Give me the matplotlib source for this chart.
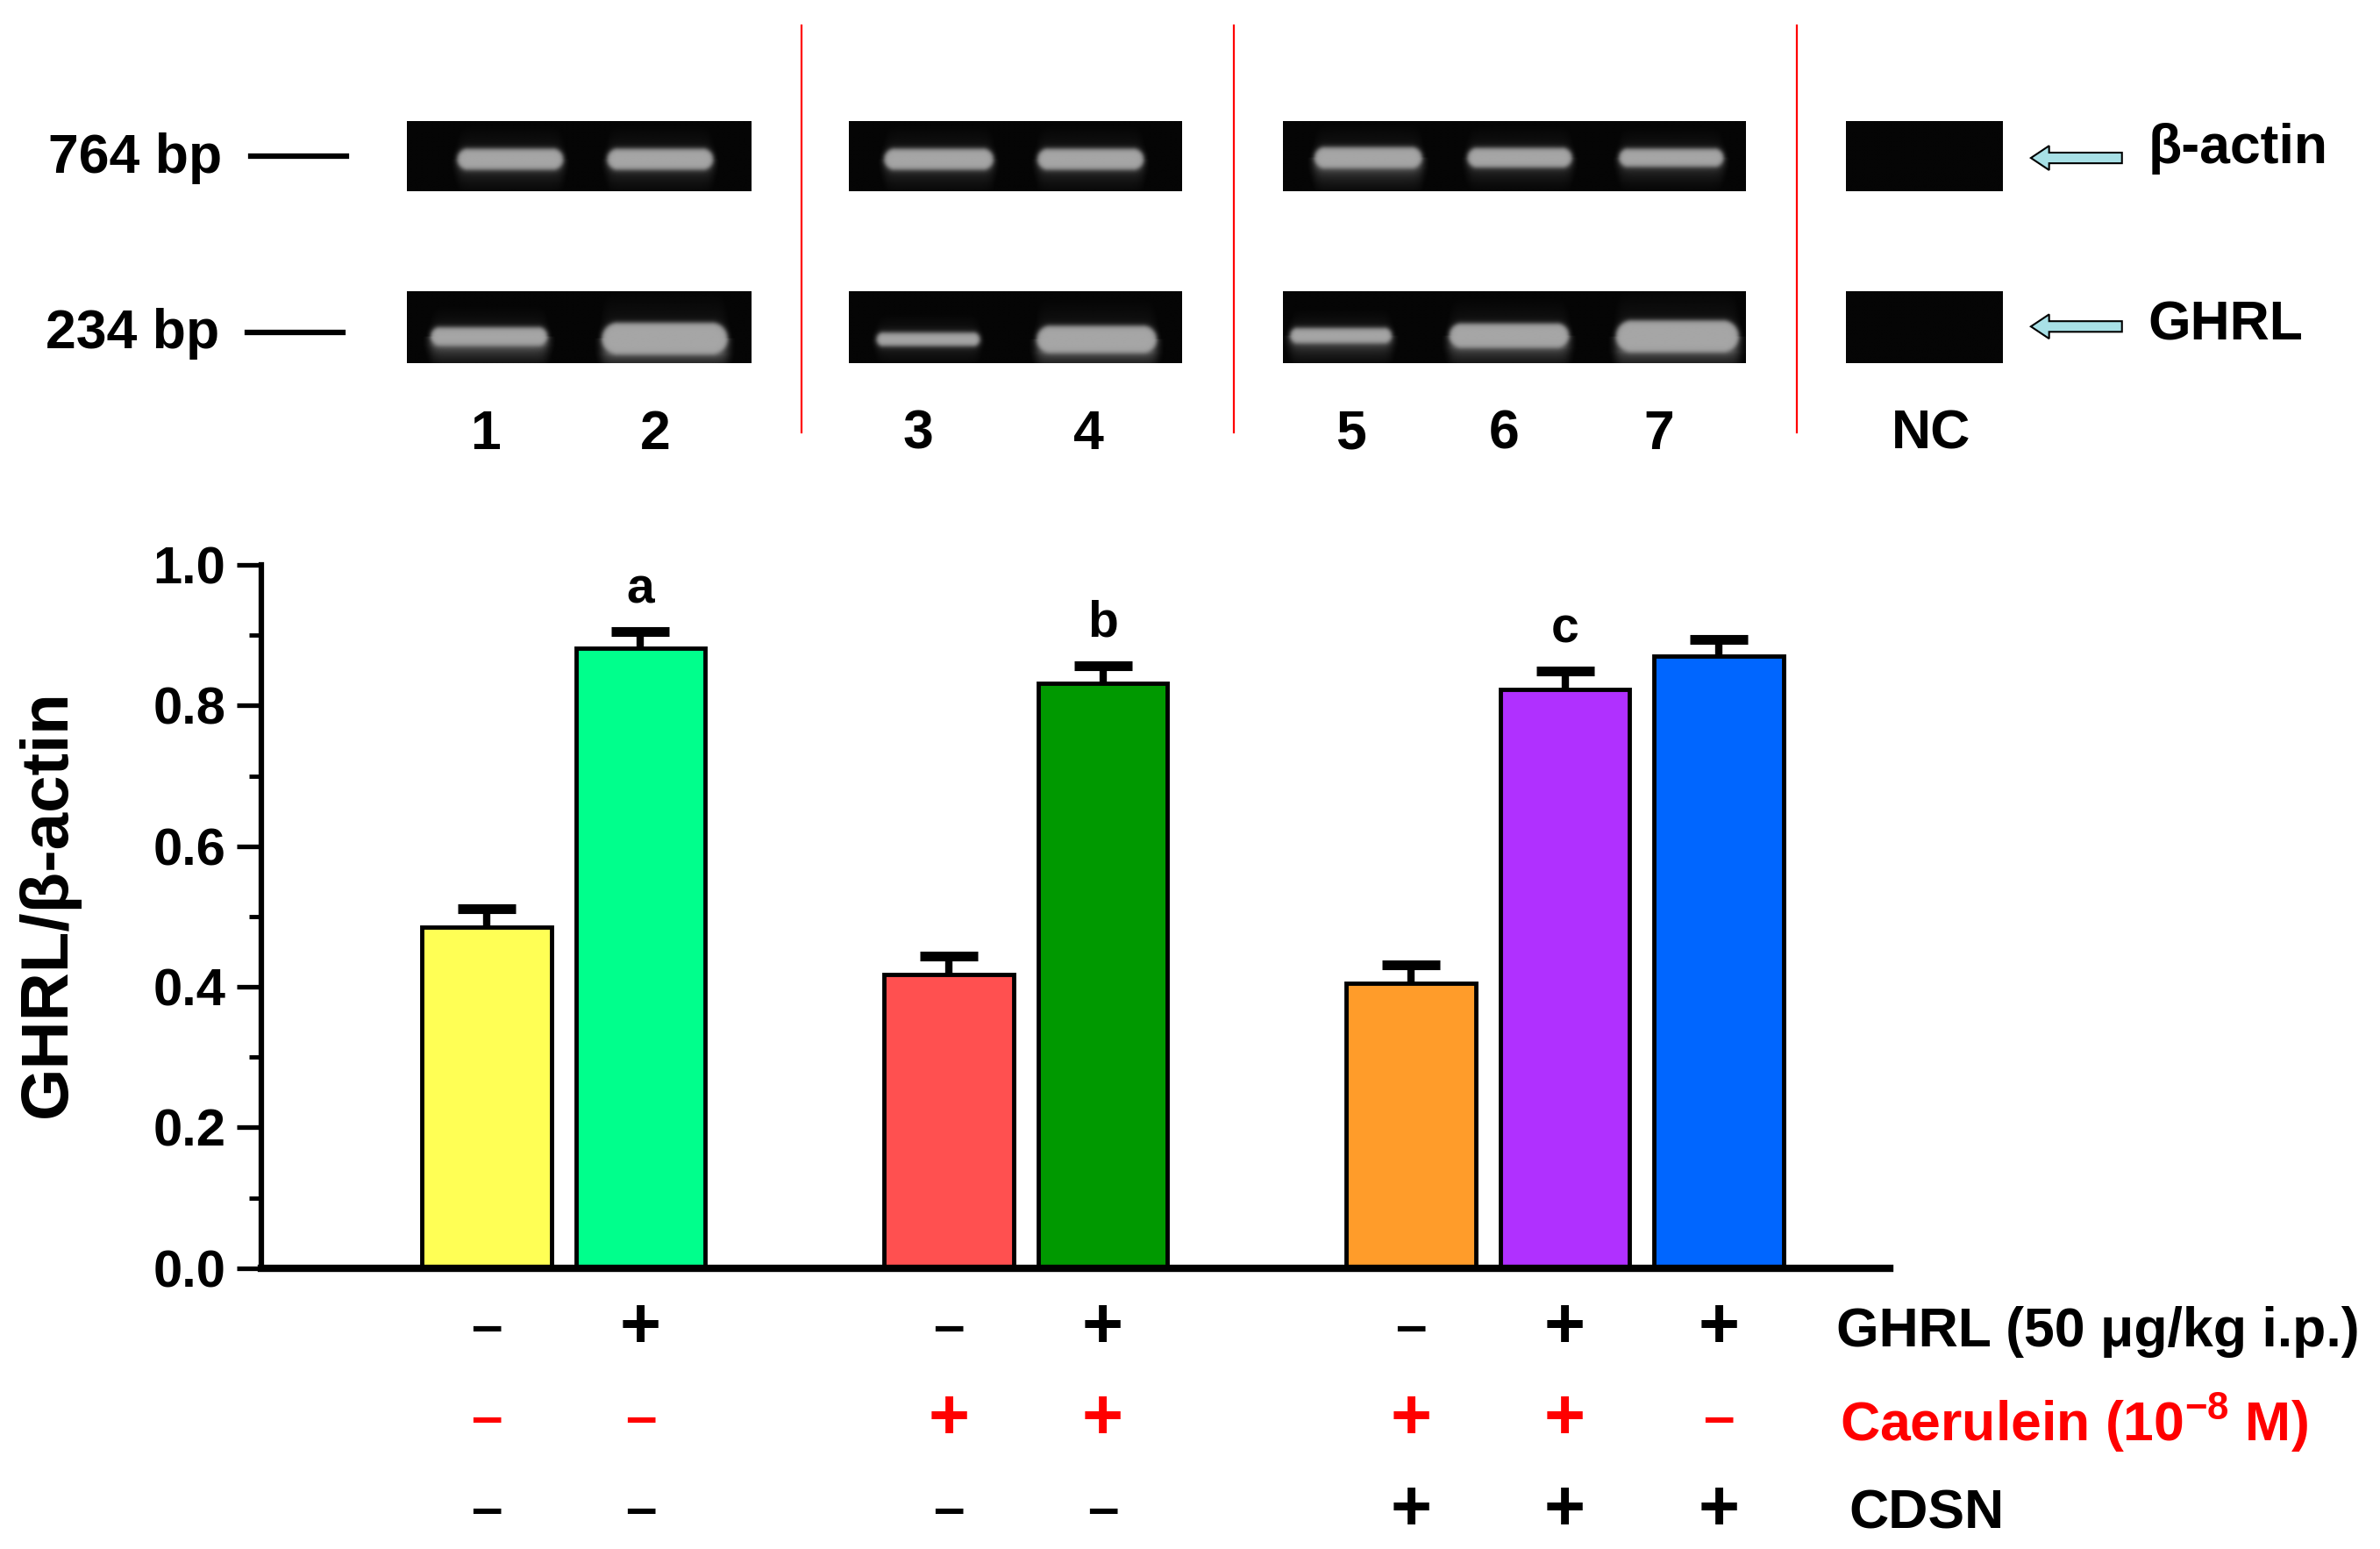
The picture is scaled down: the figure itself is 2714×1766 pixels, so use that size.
import numpy as np
import matplotlib
matplotlib.use("Agg")
import matplotlib.pyplot as plt
from matplotlib.patches import Polygon
from matplotlib.transforms import blended_transform_factory

plt.rcParams['font.family'] = ['Liberation Sans', 'DejaVu Sans']
plt.rcParams['font.weight'] = 'bold'
plt.rcParams['mathtext.fontset'] = 'custom'
plt.rcParams['mathtext.rm'] = 'Liberation Sans:bold'
plt.rcParams['mathtext.bf'] = 'Liberation Sans:bold'
plt.rcParams['mathtext.it'] = 'Liberation Sans:bold'

# bar data
ratio = [0.485, 0.881, 0.418, 0.832, 0.405, 0.823, 0.870]
sem = [0.026, 0.024, 0.026, 0.025, 0.026, 0.026, 0.024]
colors = ['#FFFF55', '#00FF8C', '#FF5050', '#009900', '#FF9C2A', '#B030FF', '#0066FF']
letters = ['', 'a', '', 'b', '', 'c', '']

# treatment table under the bars
ghrl_sign = ['-', '+', '-', '+', '-', '+', '+']
caer_sign = ['-', '-', '+', '+', '+', '+', '-']
cdsn_sign = ['-', '-', '-', '-', '+', '+', '+']

lane_names = ['1', '2', '3', '4', '5', '6', '7', 'NC']

W, H = 2714, 1766
fig = plt.figure(figsize=(W / 100, H / 100), dpi=100)

# overlay in "display" coords of a 1568 x 1020 layout
ov = fig.add_axes([0, 0, 1, 1], zorder=0)
ov.set_xlim(0, 1568)
ov.set_ylim(1020, 0)
ov.axis('off')
S = W / 1568.0

def gel(x0, x1, y0, y1, bands):
    nx = int((x1 - x0) * S)
    ny = int((y1 - y0) * S)
    X, Y = np.meshgrid(np.linspace(x0, x1, nx), np.linspace(y0, y1, ny))
    img = np.full(X.shape, 0.02)
    for cx, cy, w, h, sm in bands:
        # rounded band ends
        rx = np.clip(np.abs(X - cx) - (w / 2 - h / 2), 0, None)
        ry = np.abs(Y - cy)
        d = np.sqrt(rx ** 2 + ry ** 2)
        core = 1 / (1 + np.exp(-(h / 2 - d) / 0.9))
        fx = 1 / (1 + np.exp(-(w / 2 - np.abs(X - cx)) / 2.0))
        band = 0.65 * core
        below = (Y > cy) * np.exp(-np.clip(Y - cy - h / 2, 0, None) / 7.0) * fx * sm
        glow = 0.08 * fx * np.exp(-((Y - cy) / (h + 6)) ** 2)
        img = np.maximum(img, band + (1 - core) * (below + glow))
    ov.imshow(img, cmap='gray', vmin=0, vmax=1, extent=(x0, x1, y1, y0),
              interpolation='bilinear', aspect='auto', zorder=1)

# beta-actin row
gel(268, 495, 80, 126, [(336, 105, 70, 14, 0.10), (435, 105, 70, 14, 0.10)])
gel(559, 778, 80, 126, [(618, 105, 72, 14, 0.10), (718, 105, 70, 14, 0.10)])
gel(845, 1150, 80, 126, [(901, 104, 71, 14, 0.22), (1001, 104, 69, 13, 0.10),
                         (1101, 104, 69, 12, 0.12)])
gel(1216, 1319, 80, 126, [])
# GHRL row
gel(268, 495, 192, 239, [(322, 221.5, 77, 12, 0.30), (438, 223, 83, 21, 0.25)])
gel(559, 778, 192, 239, [(611, 223.5, 68, 9, 0.05), (722, 223.5, 79, 18, 0.25)])
gel(845, 1150, 192, 239, [(883, 221, 67, 10, 0.20), (994, 221, 79, 16, 0.25),
                          (1105, 221.5, 81, 21, 0.25)])
gel(1216, 1319, 192, 239, [])

for xr in [528, 813, 1184]:
    ov.plot([xr, xr], [17, 285], color='#FF0000', lw=1.6, zorder=2)

ov.text(32, 104, '764 bp', fontsize=45, ha='left', va='center')
ov.plot([165, 228], [103, 103], color='black', lw=4.5)
ov.text(30, 220, '234 bp', fontsize=45, ha='left', va='center')
ov.plot([163, 226], [219, 219], color='black', lw=4.5)

for xl, name in zip([320, 432, 605, 717, 890, 991, 1093, 1272], lane_names):
    ov.text(xl, 286, name, fontsize=45, ha='center', va='center')

for ya, lab in [(104, '\u03b2-actin'), (215, 'GHRL')]:
    arrow = [(1338, ya), (1350, ya - 8), (1350, ya - 3.5), (1398, ya - 3.5),
             (1398, ya + 3.5), (1350, ya + 3.5), (1350, ya + 8)]
    ov.add_patch(Polygon(arrow, closed=True, facecolor='#A8E0E6',
                         edgecolor='black', lw=1.5, zorder=3))
    ov.text(1415, ya - 6 if lab != 'GHRL' else ya - 1, lab, fontsize=45,
            ha='left', va='center')

# bar chart
ax = fig.add_axes([172 / 1568, 1 - 835 / 1020, (1245 - 172) / 1568, (835 - 372) / 1020],
                  zorder=2)
ax.patch.set_alpha(0)
pos = [1, 2, 4, 5, 7, 8, 9]
ax.bar(pos, ratio, width=0.84, color=colors, edgecolor='black', linewidth=3.5, zorder=2)
eb = ax.errorbar(pos, ratio, yerr=[np.zeros(len(sem)), sem], fmt='none', ecolor='black',
                 elinewidth=6, capsize=24, capthick=8, zorder=3)
eb[1][0].set_visible(False)   # no lower caps, error bars go up only
for p, v, e, t in zip(pos, ratio, sem, letters):
    if t:
        ax.text(p, v + e + 0.06, t, fontsize=41, ha='center', va='center')

ax.set_xlim(-0.463, 10.108)
ax.set_ylim(0, 1.0)
ax.set_yticks(np.arange(0, 1.01, 0.2))
ax.set_yticklabels(['%.1f' % v for v in np.arange(0, 1.01, 0.2)], fontsize=43)
ax.set_yticks(np.arange(0.1, 1.0, 0.2), minor=True)
ax.set_xticks([])
ax.tick_params(axis='y', which='major', length=20, width=3.8, pad=9)
ax.tick_params(axis='y', which='minor', length=10, width=3.5)
for s in ['top', 'right']:
    ax.spines[s].set_visible(False)
ax.spines['left'].set_linewidth(4.5)
ax.spines['bottom'].set_linewidth(6)
ov.text(32, 595, 'GHRL/\u03b2-actin', fontsize=55, fontweight='bold', rotation=90,
        ha='center', va='center')

# treatment rows
tr = blended_transform_factory(ax.transData, ov.transData)
rows = [(ghrl_sign, 875, 'black'), (caer_sign, 935, '#FF0000'), (cdsn_sign, 995, 'black')]
for signs, yr, col in rows:
    for p, s in zip(pos, signs):
        if s == '+':
            ov.text(p, yr, '+', fontsize=58, ha='center', va='center', color=col,
                    transform=tr, clip_on=False)
        else:
            ov.text(p, yr, '\u2013', fontsize=46, ha='center', va='center', color=col,
                    transform=tr, clip_on=False)

ov.text(1210, 877, 'GHRL (50 \u03bcg/kg i.p.)', fontsize=45, ha='left', va='center')
ov.text(1212, 937, 'Caerulein (10$^{-8}$ M)', fontsize=45, ha='left', va='center',
        color='#FF0000')
ov.text(1218, 997, 'CDSN', fontsize=45, ha='left', va='center')

fig.savefig('out.png', dpi=100, facecolor='white')
